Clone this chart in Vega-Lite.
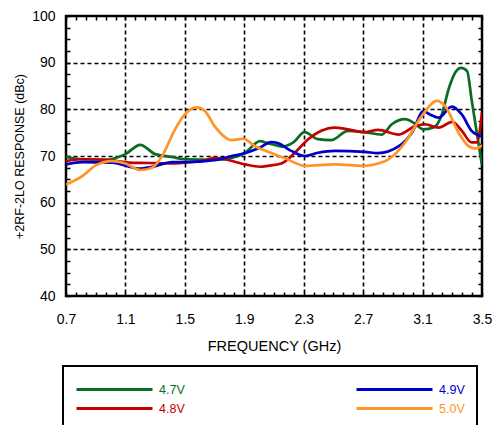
{
  "$schema": "https://vega.github.io/schema/vega-lite/v6.json",
  "width": 416,
  "height": 280,
  "autosize": "none",
  "padding": {"left": 66, "top": 16, "right": 10, "bottom": 129},
  "config": {
    "font": "Liberation Sans",
    "view": {"stroke": "black", "strokeWidth": 2.5},
    "legend": {"strokeWidth": 2}
  },
  "data": {
    "values": [
      {"series": "4.7V", "f": 0.70, "v": 69.8},
      {"series": "4.7V", "f": 0.80, "v": 69.3},
      {"series": "4.7V", "f": 0.97, "v": 69.2},
      {"series": "4.7V", "f": 1.10, "v": 70.4},
      {"series": "4.7V", "f": 1.20, "v": 72.4},
      {"series": "4.7V", "f": 1.30, "v": 70.4},
      {"series": "4.7V", "f": 1.41, "v": 69.8},
      {"series": "4.7V", "f": 1.50, "v": 69.3},
      {"series": "4.7V", "f": 1.70, "v": 69.2},
      {"series": "4.7V", "f": 1.815, "v": 69.6},
      {"series": "4.7V", "f": 1.905, "v": 70.7},
      {"series": "4.7V", "f": 2.006, "v": 73.2},
      {"series": "4.7V", "f": 2.06, "v": 72.7},
      {"series": "4.7V", "f": 2.10, "v": 72.4},
      {"series": "4.7V", "f": 2.15, "v": 72.0},
      {"series": "4.7V", "f": 2.23, "v": 72.9},
      {"series": "4.7V", "f": 2.306, "v": 75.1},
      {"series": "4.7V", "f": 2.396, "v": 73.6},
      {"series": "4.7V", "f": 2.485, "v": 73.4},
      {"series": "4.7V", "f": 2.598, "v": 75.4},
      {"series": "4.7V", "f": 2.71, "v": 75.1},
      {"series": "4.7V", "f": 2.826, "v": 74.6},
      {"series": "4.7V", "f": 2.893, "v": 76.8},
      {"series": "4.7V", "f": 2.983, "v": 77.9},
      {"series": "4.7V", "f": 3.04, "v": 77.1},
      {"series": "4.7V", "f": 3.107, "v": 75.7},
      {"series": "4.7V", "f": 3.174, "v": 76.1},
      {"series": "4.7V", "f": 3.23, "v": 78.9},
      {"series": "4.7V", "f": 3.275, "v": 84.3},
      {"series": "4.7V", "f": 3.32, "v": 87.9},
      {"series": "4.7V", "f": 3.36, "v": 88.9},
      {"series": "4.7V", "f": 3.40, "v": 88.2},
      {"series": "4.7V", "f": 3.43, "v": 82.1},
      {"series": "4.7V", "f": 3.465, "v": 75.0},
      {"series": "4.7V", "f": 3.50, "v": 68.0},

      {"series": "4.8V", "f": 0.70, "v": 68.9},
      {"series": "4.8V", "f": 0.80, "v": 69.3},
      {"series": "4.8V", "f": 1.00, "v": 69.1},
      {"series": "4.8V", "f": 1.12, "v": 68.6},
      {"series": "4.8V", "f": 1.26, "v": 68.5},
      {"series": "4.8V", "f": 1.37, "v": 68.4},
      {"series": "4.8V", "f": 1.50, "v": 68.6},
      {"series": "4.8V", "f": 1.636, "v": 69.1},
      {"series": "4.8V", "f": 1.70, "v": 69.6},
      {"series": "4.8V", "f": 1.77, "v": 69.3},
      {"series": "4.8V", "f": 1.905, "v": 68.2},
      {"series": "4.8V", "f": 2.006, "v": 67.7},
      {"series": "4.8V", "f": 2.06, "v": 67.9},
      {"series": "4.8V", "f": 2.15, "v": 68.4},
      {"series": "4.8V", "f": 2.24, "v": 70.7},
      {"series": "4.8V", "f": 2.33, "v": 73.6},
      {"series": "4.8V", "f": 2.418, "v": 75.4},
      {"series": "4.8V", "f": 2.508, "v": 76.1},
      {"series": "4.8V", "f": 2.598, "v": 75.7},
      {"series": "4.8V", "f": 2.71, "v": 75.1},
      {"series": "4.8V", "f": 2.80, "v": 75.6},
      {"series": "4.8V", "f": 2.94, "v": 74.6},
      {"series": "4.8V", "f": 3.05, "v": 76.4},
      {"series": "4.8V", "f": 3.117, "v": 76.8},
      {"series": "4.8V", "f": 3.208, "v": 76.1},
      {"series": "4.8V", "f": 3.30, "v": 77.3},
      {"series": "4.8V", "f": 3.364, "v": 75.4},
      {"series": "4.8V", "f": 3.43, "v": 72.9},
      {"series": "4.8V", "f": 3.465, "v": 72.9},
      {"series": "4.8V", "f": 3.50, "v": 79.3},

      {"series": "4.9V", "f": 0.70, "v": 68.2},
      {"series": "4.9V", "f": 0.81, "v": 68.7},
      {"series": "4.9V", "f": 1.01, "v": 68.6},
      {"series": "4.9V", "f": 1.19, "v": 67.3},
      {"series": "4.9V", "f": 1.28, "v": 67.7},
      {"series": "4.9V", "f": 1.414, "v": 68.7},
      {"series": "4.9V", "f": 1.50, "v": 68.7},
      {"series": "4.9V", "f": 1.70, "v": 69.1},
      {"series": "4.9V", "f": 1.815, "v": 70.0},
      {"series": "4.9V", "f": 1.905, "v": 70.6},
      {"series": "4.9V", "f": 2.006, "v": 71.8},
      {"series": "4.9V", "f": 2.08, "v": 73.0},
      {"series": "4.9V", "f": 2.13, "v": 72.7},
      {"series": "4.9V", "f": 2.216, "v": 71.1},
      {"series": "4.9V", "f": 2.306, "v": 70.0},
      {"series": "4.9V", "f": 2.396, "v": 70.7},
      {"series": "4.9V", "f": 2.508, "v": 71.1},
      {"series": "4.9V", "f": 2.71, "v": 70.9},
      {"series": "4.9V", "f": 2.80, "v": 70.6},
      {"series": "4.9V", "f": 2.94, "v": 72.1},
      {"series": "4.9V", "f": 3.028, "v": 75.0},
      {"series": "4.9V", "f": 3.107, "v": 79.6},
      {"series": "4.9V", "f": 3.15, "v": 78.9},
      {"series": "4.9V", "f": 3.208, "v": 78.2},
      {"series": "4.9V", "f": 3.297, "v": 80.6},
      {"series": "4.9V", "f": 3.364, "v": 78.9},
      {"series": "4.9V", "f": 3.43, "v": 75.4},
      {"series": "4.9V", "f": 3.50, "v": 74.2},

      {"series": "5.0V", "f": 0.70, "v": 63.9},
      {"series": "5.0V", "f": 0.81, "v": 65.7},
      {"series": "5.0V", "f": 0.90, "v": 68.0},
      {"series": "5.0V", "f": 1.01, "v": 68.9},
      {"series": "5.0V", "f": 1.10, "v": 68.4},
      {"series": "5.0V", "f": 1.20, "v": 67.0},
      {"series": "5.0V", "f": 1.28, "v": 67.5},
      {"series": "5.0V", "f": 1.347, "v": 70.0},
      {"series": "5.0V", "f": 1.434, "v": 75.7},
      {"series": "5.0V", "f": 1.50, "v": 78.9},
      {"series": "5.0V", "f": 1.58, "v": 80.4},
      {"series": "5.0V", "f": 1.636, "v": 79.6},
      {"series": "5.0V", "f": 1.70, "v": 76.4},
      {"series": "5.0V", "f": 1.815, "v": 73.4},
      {"series": "5.0V", "f": 1.894, "v": 73.7},
      {"series": "5.0V", "f": 1.972, "v": 72.1},
      {"series": "5.0V", "f": 2.06, "v": 70.9},
      {"series": "5.0V", "f": 2.17, "v": 69.6},
      {"series": "5.0V", "f": 2.306, "v": 67.9},
      {"series": "5.0V", "f": 2.508, "v": 68.2},
      {"series": "5.0V", "f": 2.71, "v": 67.9},
      {"series": "5.0V", "f": 2.80, "v": 68.4},
      {"series": "5.0V", "f": 2.87, "v": 69.3},
      {"series": "5.0V", "f": 2.983, "v": 72.9},
      {"series": "5.0V", "f": 3.095, "v": 78.6},
      {"series": "5.0V", "f": 3.196, "v": 81.8},
      {"series": "5.0V", "f": 3.252, "v": 80.7},
      {"series": "5.0V", "f": 3.342, "v": 75.0},
      {"series": "5.0V", "f": 3.41, "v": 72.1},
      {"series": "5.0V", "f": 3.454, "v": 71.6},
      {"series": "5.0V", "f": 3.50, "v": 72.3}
    ]
  },
  "layer": [
    {
      "mark": {"type": "line", "interpolate": "monotone", "strokeWidth": 2.7, "clip": true},
      "encoding": {
        "x": {
          "field": "f", "type": "quantitative",
          "scale": {"domain": [0.7, 3.5], "nice": false, "zero": false},
          "axis": {
            "orient": "bottom",
            "values": [0.7, 0.7667, 0.8333, 0.9, 0.9667, 1.0333, 1.1, 1.1667, 1.2333, 1.3, 1.3667, 1.4333, 1.5, 1.5667, 1.6333, 1.7, 1.7667, 1.8333, 1.9, 1.9667, 2.0333, 2.1, 2.1667, 2.2333, 2.3, 2.3667, 2.4333, 2.5, 2.5667, 2.6333, 2.7, 2.7667, 2.8333, 2.9, 2.9667, 3.0333, 3.1, 3.1667, 3.2333, 3.3, 3.3667, 3.4333, 3.5],
            "labelExpr": "indexof([0.7, 1.1, 1.5, 1.9, 2.3, 2.7, 3.1, 3.5], datum.value) >= 0 ? format(datum.value, '.1f') : ''",
            "labelFontSize": 14, "labelColor": "black", "labelPadding": 20, "labelFlush": false, "labelOverlap": false,
            "domain": false,
            "tickSize": -4, "tickColor": "black", "tickWidth": 1.5,
            "grid": true, "gridColor": "black", "gridDash": [4, 3], "gridWidth": 1.6,
            "gridOpacity": {"condition": {"test": "indexof([1.1, 1.5, 1.9, 2.3, 2.7, 3.1], datum.value) >= 0", "value": 1}, "value": 0},
            "title": "FREQUENCY (GHz)", "titleFontSize": 14.5, "titleFontWeight": "normal", "titleColor": "black", "titlePadding": 13
          }
        },
        "y": {
          "field": "v", "type": "quantitative",
          "scale": {"domain": [40, 100], "nice": false, "zero": false},
          "axis": {
            "orient": "left",
            "values": [40, 42.5, 45, 47.5, 50, 52.5, 55, 57.5, 60, 62.5, 65, 67.5, 70, 72.5, 75, 77.5, 80, 82.5, 85, 87.5, 90, 92.5, 95, 97.5, 100],
            "labelExpr": "datum.value % 10 == 0 ? format(datum.value, 'd') : ''",
            "labelFontSize": 14, "labelColor": "black", "labelPadding": 15, "labelFlush": false, "labelOverlap": false,
            "domain": false,
            "tickSize": -4, "tickColor": "black", "tickWidth": 1.5,
            "grid": true, "gridColor": "black", "gridDash": [4, 3], "gridWidth": 1.6,
            "gridOpacity": {"condition": {"test": "datum.value % 10 == 0 && datum.value > 40 && datum.value < 100", "value": 1}, "value": 0},
            "title": "+2RF-2LO RESPONSE (dBc)", "titleFontSize": 12.5, "titleFontWeight": "normal", "titleColor": "black", "titlePadding": 5
          }
        },
        "color": {
          "field": "series", "type": "nominal",
          "scale": {"domain": ["4.7V", "4.8V", "4.9V", "5.0V"], "range": ["#0b6b22", "#c40000", "#0000cc", "#ff9526"]},
          "legend": {
            "orient": "none", "legendX": -3, "legendY": 350,
            "title": null,
            "columns": 2,
            "symbolType": "M-1,0H6.6",
            "symbolSize": 400,
            "symbolStrokeWidth": 3,
            "labelOffset": 61,
            "labelFontSize": 12.5,
            "labelFont": "Liberation Sans",
            "columnPadding": 165,
            "rowPadding": 1,
            "padding": 12,
            "strokeColor": "black",
            "fillColor": "white",
            "encode": {"labels": {"update": {"fill": {"scale": "color", "field": "value"}}}}
          }
        }
      }
    },
    {
      "mark": {"type": "line", "opacity": 0},
      "encoding": {
        "x": {
          "field": "f", "type": "quantitative",
          "axis": {
            "orient": "top",
            "values": [0.7, 0.7667, 0.8333, 0.9, 0.9667, 1.0333, 1.1, 1.1667, 1.2333, 1.3, 1.3667, 1.4333, 1.5, 1.5667, 1.6333, 1.7, 1.7667, 1.8333, 1.9, 1.9667, 2.0333, 2.1, 2.1667, 2.2333, 2.3, 2.3667, 2.4333, 2.5, 2.5667, 2.6333, 2.7, 2.7667, 2.8333, 2.9, 2.9667, 3.0333, 3.1, 3.1667, 3.2333, 3.3, 3.3667, 3.4333, 3.5],
            "labels": false, "domain": false, "grid": false,
            "tickSize": -4, "tickColor": "black", "tickWidth": 1.5, "title": null
          }
        },
        "y": {
          "field": "v", "type": "quantitative",
          "axis": {
            "orient": "right",
            "values": [40, 42.5, 45, 47.5, 50, 52.5, 55, 57.5, 60, 62.5, 65, 67.5, 70, 72.5, 75, 77.5, 80, 82.5, 85, 87.5, 90, 92.5, 95, 97.5, 100],
            "labels": false, "domain": false, "grid": false,
            "tickSize": -4, "tickColor": "black", "tickWidth": 1.5, "title": null
          }
        },
        "detail": {"field": "series"}
      }
    }
  ],
  "resolve": {"axis": {"x": "independent", "y": "independent"}}
}
